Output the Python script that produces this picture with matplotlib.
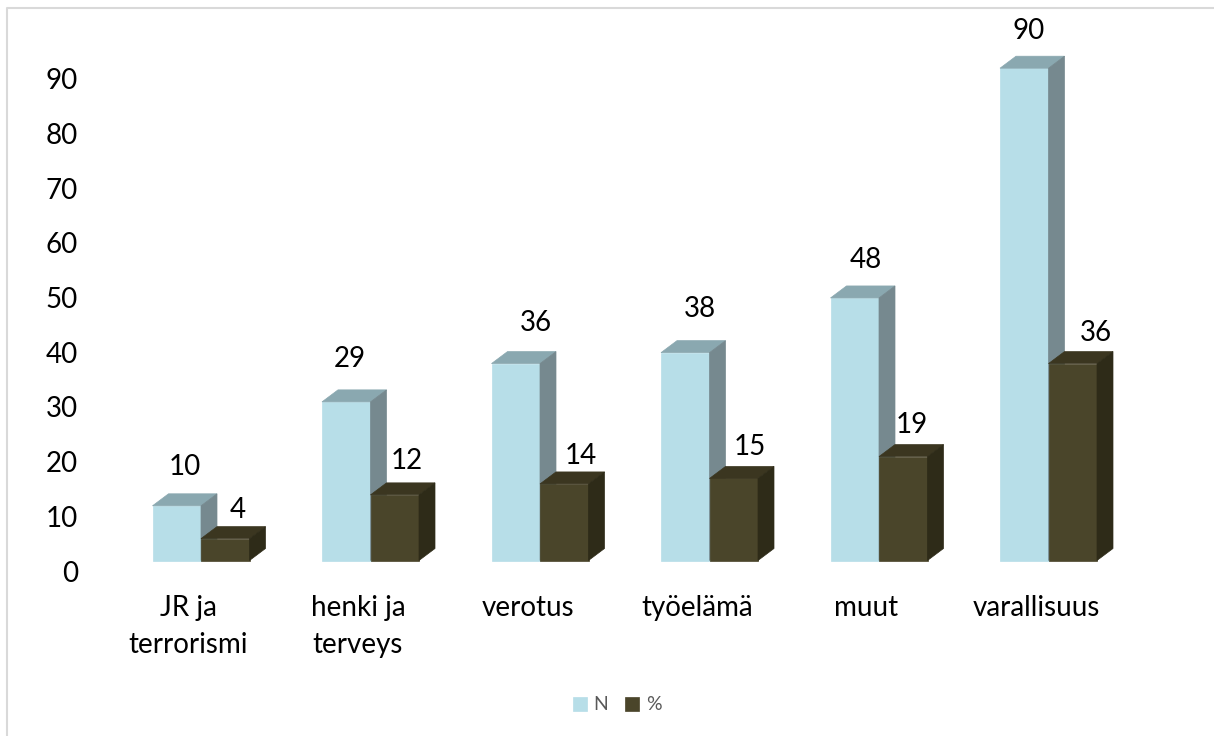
import matplotlib
matplotlib.use('Agg')
import matplotlib.pyplot as plt
import numpy as np
from matplotlib.lines import Line2D

categories = ['JR ja\nterrorismi', 'henki ja\nterveys', 'verotus', 'työelämä', 'muut', 'varallisuus']
n_values = [10, 29, 36, 38, 48, 90]
pct_values = [4, 12, 14, 15, 19, 36]
y_ticks = [0, 10, 20, 30, 40, 50, 60, 70, 80, 90]

# label nudges in pixels, the labels were placed by hand in the original
n_label_dx = [8, 4, 20, 15, 11, 4]
n_label_dy = [39, 43, 41, 44, 38, 37]
pct_label_dx = [12, 12, 17, 16, 9, 23]
pct_label_dy = [29, 34, 28, 31, 32, 31]

W, H = 1214, 736
PX_X = 169.5       # pixels per category
PX_Y = 5.47        # pixels per value unit
DEPTH_X = 16 / PX_X
DEPTH_Y = 12 / PX_Y
BAR_W = 48.5 / PX_X

plt.rcParams['font.family'] = ['Lato', 'DejaVu Sans']

fig = plt.figure(figsize=(W / 100, H / 100), dpi=100)
# only the top and left edge of the frame are in the picture
fig.add_artist(Line2D([7 / W, 7 / W, 1], [0, 1 - 7.5 / H, 1 - 7.5 / H], color='#D9D9D9', lw=1.5))

left, right, top, base = 100, 1170, 13, 560.5
ax = fig.add_axes([left / W, 1 - base / H, (right - left) / W, (base - top) / H])
ax.patch.set_alpha(0)
ax.set_xlim((left - 201) / PX_X, (right - 201) / PX_X)
ax.set_ylim(0, (base - top) / PX_Y)


def bar3d(xs, vals, front, top_c, side):
    bars = ax.bar(xs, vals, BAR_W, color=front, edgecolor=front, linewidth=0.5, clip_on=False)
    for x, v in zip(xs, vals):
        x0, x1 = x - BAR_W / 2, x + BAR_W / 2
        ax.fill([x0, x1, x1 + DEPTH_X, x0 + DEPTH_X], [v, v, v + DEPTH_Y, v + DEPTH_Y],
                color=top_c, lw=0.5, clip_on=False)
        ax.fill([x1, x1 + DEPTH_X, x1 + DEPTH_X, x1], [0, DEPTH_Y, v + DEPTH_Y, v],
                color=side, lw=0.5, clip_on=False)
    return bars


x = np.arange(len(categories))
x_n = x - BAR_W / 2
x_pct = x + BAR_W / 2
bars_n = bar3d(x_n, n_values, '#B7DEE8', '#8AA8B0', '#76898F')
bars_pct = bar3d(x_pct, pct_values, '#4A452A', '#3B3620', '#2E2B18')

for xs, vals, dxs, dys in [(x_n, n_values, n_label_dx, n_label_dy),
                           (x_pct, pct_values, pct_label_dx, pct_label_dy)]:
    for xi, v, dx, dy in zip(xs, vals, dxs, dys):
        ax.annotate(str(v), (xi, v), xytext=(dx * 0.72, dy * 0.72), textcoords='offset points',
                    ha='center', va='center', fontsize=20, color='black', annotation_clip=False)

for s in ax.spines.values():
    s.set_visible(False)
ax.set_yticks(y_ticks)
ax.set_yticklabels([str(t) for t in y_ticks], fontsize=20, va='top')
ax.tick_params(axis='y', length=0, pad=16)
ax.set_xticks(x - 12.5 / PX_X)
ax.set_xticklabels(categories, fontsize=20, linespacing=1.5)
ax.tick_params(axis='x', length=0, pad=25)

fig.legend([bars_n, bars_pct], ['N', '%'], loc='center', bbox_to_anchor=(617 / W, 1 - 705 / H),
           ncols=2, frameon=False, fontsize=14, labelcolor='#595959', handlelength=0.72,
           handleheight=0.72, handletextpad=0.35, columnspacing=0.85)

fig.savefig('out.png', dpi=100)
